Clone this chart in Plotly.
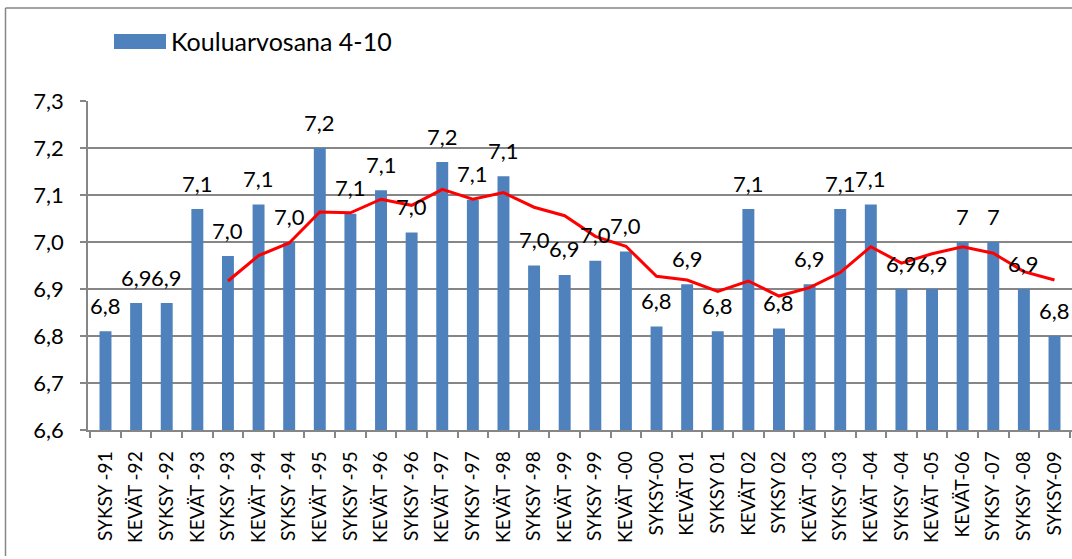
import plotly.graph_objects as go

categories = ["SYKSY -91", "KEVÄT -92", "SYKSY -92", "KEVÄT -93", "SYKSY -93", "KEVÄT -94",
              "SYKSY -94", "KEVÄT -95", "SYKSY -95", "KEVÄT -96", "SYKSY -96", "KEVÄT -97",
              "SYKSY -97", "KEVÄT -98", "SYKSY -98", "KEVÄT -99", "SYKSY -99", "KEVÄT -00",
              "SYKSY-00", "KEVÄT 01", "SYKSY 01", "KEVÄT 02", "SYKSY 02", "KEVÄT -03",
              "SYKSY -03", "KEVÄT -04", "SYKSY -04", "KEVÄT -05", "KEVÄT-06", "SYKSY -07",
              "SYKSY -08", "SYKSY-09"]

grades = [6.81, 6.87, 6.87, 7.07, 6.97, 7.08, 7.00, 7.20, 7.06, 7.11, 7.02, 7.17,
          7.09, 7.14, 6.95, 6.93, 6.96, 6.98, 6.82, 6.91, 6.81, 7.07, 6.816, 6.91,
          7.07, 7.08, 6.90, 6.90, 7.00, 7.00, 6.90, 6.80]

value_labels = ["6,8", "6,9", "6,9", "7,1", "7,0", "7,1", "7,0", "7,2", "7,1", "7,1", "7,0", "7,2",
                "7,1", "7,1", "7,0", "6,9", "7,0", "7,0", "6,8", "6,9", "6,8", "7,1", "6,8", "6,9",
                "7,1", "7,1", "6,9", "6,9", "7", "7", "6,9", "6,8"]

trend_categories = categories[4:]
trend_values = [6.917, 6.971, 6.998, 7.064, 7.062, 7.091, 7.078, 7.112, 7.091, 7.105,
                7.074, 7.056, 7.012, 6.991, 6.927, 6.919, 6.895, 6.917, 6.885, 6.903,
                6.935, 6.990, 6.955, 6.975, 6.990, 6.976, 6.937, 6.919]

legend_label = "Kouluarvosana 4-10"

W, H = 1072, 559
ML, MR, MT, MB = 88, 0, 101, 129
PW, PH = W - ML - MR, H - MT - MB
FONT = "Lato, 'Open Sans', sans-serif"
GRAY = "#868686"
BLUE = "#4F81BD"


def px_x(px):
    return (px - ML) / PW


def px_y(py):
    return (H - MB - py) / PH


fig = go.Figure()
fig.add_trace(go.Bar(x=categories, y=grades, marker=dict(color=BLUE, line=dict(width=0)),
                     name=legend_label, showlegend=False))
fig.add_trace(go.Scatter(x=trend_categories, y=trend_values, mode="lines",
                         line=dict(color="#FF0000", width=3), showlegend=False))

annotations = []
for c, v, t in zip(categories, grades, value_labels):
    annotations.append(dict(x=c, y=v, text=t, showarrow=False, yshift=26,
                            xanchor="center", yanchor="middle",
                            font=dict(family=FONT, size=22, color="#000000")))
annotations.append(dict(xref="paper", yref="paper", x=px_x(169), y=px_y(41), text=legend_label,
                        showarrow=False, xanchor="left", yanchor="middle",
                        font=dict(family=FONT, size=25, color="#000000")))

shapes = [
    dict(type="rect", xref="paper", yref="paper", x0=px_x(114), x1=px_x(166),
         y0=px_y(49), y1=px_y(34), fillcolor=BLUE, line=dict(width=0)),
    dict(type="line", xref="paper", yref="paper", x0=px_x(5.5), x1=px_x(5.5),
         y0=px_y(8), y1=px_y(556), line=dict(color=GRAY, width=1.5)),
    dict(type="line", xref="paper", yref="paper", x0=px_x(5.5), x1=px_x(1080),
         y0=px_y(8), y1=px_y(8), line=dict(color=GRAY, width=1.5)),
]

fig.update_layout(
    width=W, height=H,
    margin=dict(l=ML, r=MR, t=MT, b=MB, pad=0),
    paper_bgcolor="white", plot_bgcolor="white",
    separators=", ",
    bargap=0.61,
    showlegend=False,
    font=dict(family=FONT, color="#000000"),
    annotations=annotations,
    shapes=shapes,
)
fig.update_xaxes(
    type="category", tickangle=-90, tickfont=dict(family=FONT, size=19),
    ticks="outside", tickson="boundaries", ticklen=6, tickcolor=GRAY, tickwidth=1.5,
    showline=True, linecolor=GRAY, linewidth=1.5, showgrid=False,
    ticklabelstandoff=12,
)
fig.update_yaxes(
    range=[6.6, 7.3], dtick=0.1, tick0=6.6, tickformat=".1f",
    tickfont=dict(family=FONT, size=22),
    ticks="outside", ticklen=6, tickcolor=GRAY, tickwidth=1.5,
    showline=True, linecolor=GRAY, linewidth=1.5,
    showgrid=True, gridcolor=GRAY, gridwidth=1.5, zeroline=False,
    ticklabelstandoff=12,
)

fig.write_html("out.html", config={"displayModeBar": False},
               post_script="document.body.style.margin='0';")
